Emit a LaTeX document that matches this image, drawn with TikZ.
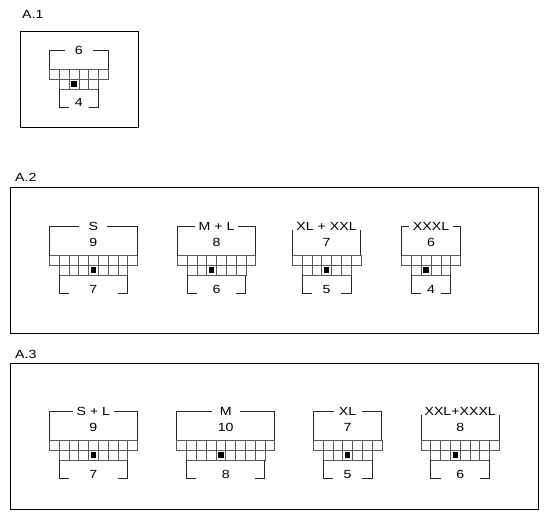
\documentclass[tikz,border=0pt]{standalone}
\usepackage{fontspec}
\setmainfont{Liberation Sans}[FakeStretch=1.2]
\tikzset{
  cell/.style={draw=black!65,line width=.7pt},
  bracket/.style={draw=black!85,line width=.9pt},
  frame/.style={draw=black,line width=.9pt},
  lbl/.style={font=\fontsize{11.8}{12}\selectfont,inner sep=0pt},
}
% #1 name, #2 x, #3 y, #4 cells, #5 bracket height, #6 size, #7 top count, #8 bottom count
\newcommand{\sizechart}[8]{%
  \begin{scope}[shift={(#2,#3)}]
    \pgfmathsetmacro\cw{9.8}
    \pgfmathtruncatemacro\nb{#4-2}
    \pgfmathtruncatemacro\kb{(\nb-1)/2}
    \pgfmathsetmacro\chartw{#4*\cw}
    % rader
    \foreach \i in {1,...,#4} \draw[cell] ({(\i-1)*\cw},0) rectangle ++(\cw,10);
    \foreach \i in {1,...,\nb} \draw[cell] ({\i*\cw},10) rectangle ++(\cw,10);
    \fill ({(\kb+1.5)*\cw-2.75},12.25) rectangle ++(5.5,5.5);
    % klammer oppe
    \draw[bracket] (0,0) -- (0,-#5) -- (\chartw,-#5) -- (\chartw,0);
    \node[lbl,fill=white,inner xsep=4pt,minimum width=28pt] (#1-size) at ({\chartw/2},-#5) {#6};
    \if\relax\detokenize{#7}\relax\else
      \node[lbl] (#1-top) at ({\chartw/2},-13) {#7};
    \fi
    % klammer nede
    \draw[bracket] ({2*\cw},38) -- (\cw,38) -- (\cw,20);
    \draw[bracket] ({\chartw-2*\cw},38) -- ({\chartw-\cw},38) -- ({\chartw-\cw},20);
    \node[lbl,anchor=base] (#1-bot) at ({\chartw/2},38) {#8};
  \end{scope}}

\begin{document}
\begin{tikzpicture}[x=1pt,y=-1pt]
  \useasboundingbox (0,0) rectangle (550,527);
  % A.1
  \node[lbl,anchor=base west] (a1) at (22,18.5) {A.1};
  \draw[frame] (20,31) rectangle (138,127.5);
  \sizechart{a1c}{49.5}{69}{6}{19}{6}{}{4}
  % A.2
  \node[lbl,anchor=base west] (a2) at (15,182) {A.2};
  \draw[frame] (10,187) rectangle (538,333);
  \sizechart{s}{49.3}{255}{9}{29}{S}{9}{7}
  \sizechart{ml}{177.3}{255}{8}{29}{M + L}{8}{6}
  \sizechart{xl}{292.3}{255}{7}{29}{XL + XXL}{7}{5}
  \sizechart{xxxl}{401.7}{255}{6}{29}{XXXL}{6}{4}
  % A.3
  \node[lbl,anchor=base west] (a3) at (15,358) {A.3};
  \draw[frame] (10,363) rectangle (538,509);
  \sizechart{sl}{49.3}{440}{9}{29}{S + L}{9}{7}
  \sizechart{m}{176.7}{440}{10}{29}{M}{10}{8}
  \sizechart{xlb}{313.3}{440}{7}{29}{XL}{7}{5}
  \sizechart{xxl}{421}{440}{8}{29}{XXL+XXXL}{8}{6}
\end{tikzpicture}
\end{document}
